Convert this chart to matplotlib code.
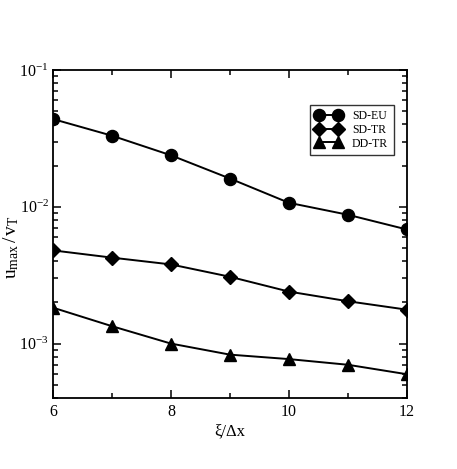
import matplotlib
matplotlib.use("Agg")
import matplotlib.pyplot as plt
from matplotlib.ticker import LogLocator, FixedLocator, FixedFormatter, NullFormatter

plt.rcParams['font.family'] = ['Liberation Serif', 'DejaVu Serif']
plt.rcParams['mathtext.fontset'] = 'custom'
plt.rcParams['mathtext.rm'] = 'Liberation Serif'
plt.rcParams['mathtext.it'] = 'Liberation Serif:italic'

x = [6, 7, 8, 9, 10, 11, 12]
sd_eu = [0.0438, 0.0331, 0.0238, 0.0161, 0.0107, 0.00875, 0.00683]
sd_tr = [0.0048, 0.00425, 0.00379, 0.00308, 0.0024, 0.00204, 0.00177]
dd_tr = [0.00183, 0.00134, 0.00100, 0.00083, 0.00077, 0.00070, 0.000597]
labels = ['SD-EU', 'SD-TR', 'DD-TR']
xticks = [6, 8, 10, 12]
yticks = [1e-3, 1e-2, 1e-1]
ytick_labels = [r'$\mathregular{10^{-3}}$', r'$\mathregular{10^{-2}}$', r'$\mathregular{10^{-1}}$']

fig = plt.figure(figsize=(4.57, 4.69), dpi=100)
ax = fig.add_axes([0.116, 0.1514, 0.774, 0.6993])

for ys, m, lab in zip([sd_eu, sd_tr, dd_tr], ['o', 'D', '^'], labels):
    ms = {'o': 8.7, 'D': 6.8, '^': 9.3}[m]
    ax.plot(x, ys, color='black', lw=1.4, marker=m, ms=ms, label=lab)

ax.set_yscale('log')
ax.set_xlim(6, 12)
ax.set_ylim(4e-4, 1e-1)
ax.xaxis.set_major_locator(FixedLocator(xticks))
ax.xaxis.set_minor_locator(FixedLocator([7, 9, 11]))
ax.yaxis.set_major_locator(FixedLocator(yticks))
ax.yaxis.set_major_formatter(FixedFormatter(ytick_labels))
ax.yaxis.set_minor_locator(LogLocator(base=10, subs=range(2, 10)))
ax.yaxis.set_minor_formatter(NullFormatter())
ax.tick_params(which='both', direction='in', top=True, right=True, width=1.1, labelsize=11.5)
ax.tick_params(which='major', length=6, pad=4)
ax.tick_params(which='minor', length=3.5)
ax.tick_params(axis='y', which='major', pad=3)
for s in ax.spines.values():
    s.set_linewidth(1.3)

ax.set_xlabel('ξ/Δx', fontsize=12, labelpad=3)
ax.set_ylabel(r'$\mathregular{u_{max}\,/\,v_{T}}$', fontsize=14, labelpad=0)
ax.yaxis.set_label_coords(-0.09, 0.46)

leg = ax.legend(loc='upper left', bbox_to_anchor=(0.727, 0.893), numpoints=2, handlelength=2.2,
                handleheight=0.9, fontsize=8.5, frameon=True, fancybox=False, edgecolor='black',
                borderpad=0.45, labelspacing=0.15, handletextpad=0.9, borderaxespad=0)
leg.get_frame().set_linewidth(1.0)

fig.savefig('out.png', dpi=100)
